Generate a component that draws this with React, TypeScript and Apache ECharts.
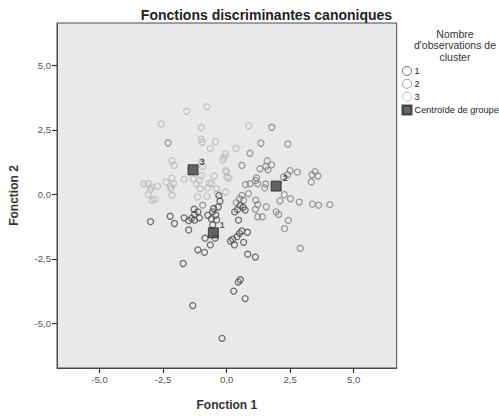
import React, { useEffect, useRef } from "react";
import * as echarts from "echarts";

const chartTitle = "Fonctions discriminantes canoniques";
const legendTitle = "Nombre\nd'observations de\ncluster";
const xAxisName = "Fonction 1";
const yAxisName = "Fonction 2";
const tickValues = [-5, -2.5, 0, 2.5, 5];
const clusterNames = ["1", "2", "3"];
const centroidName = "Centroïde de groupe";

const cluster1: number[][] = [
  [-0.30, -0.05], [-0.26, -0.26], [-0.33, -0.49], [-0.51, -0.55], [-0.55, -0.68],
  [-0.43, -0.80], [-0.74, -0.81], [-0.60, -0.95], [-0.39, -0.99], [-0.55, -1.18],
  [-1.28, -0.58], [-1.13, -0.68], [-1.26, -0.78], [-1.38, -0.93], [-1.26, -1.00],
  [-1.07, -0.91], [-2.22, -0.85], [-2.05, -1.13], [-1.67, -0.91], [-1.49, -1.02],
  [-2.99, -1.06], [-1.49, -1.38], [-0.85, -1.70], [-0.45, -1.70], [-0.64, -1.96],
  [-1.13, -2.15], [-0.87, -2.25], [0.15, -1.81], [0.31, -1.96], [0.24, -1.74],
  [0.41, -1.64], [0.67, -1.86], [0.60, -1.42], [0.51, -1.51], [0.82, -1.47],
  [0.47, -1.00], [0.83, -2.32], [1.13, -2.43], [-1.71, -2.68], [0.54, -3.31],
  [0.46, -3.40], [0.28, -3.75], [0.73, -4.04], [-1.33, -4.31], [-0.18, -5.58],
  [0.32, -0.68], [0.43, -0.59], [0.53, -0.43], [0.65, -0.50], [0.73, -0.61],
];

const cluster2: number[][] = [
  [-2.30, 1.99], [0.60, 1.12], [1.78, 2.60], [1.35, 1.98], [2.41, 1.95],
  [0.92, 1.59], [1.60, 1.30], [1.77, 1.14], [1.54, 1.08], [1.63, 0.95],
  [1.31, 0.99], [2.50, 0.92], [2.78, 0.86], [2.40, 0.76], [2.24, 0.67],
  [3.36, 0.76], [3.48, 0.88], [3.59, 0.71], [3.33, 0.48], [1.18, 0.64],
  [1.14, 0.53], [0.74, 0.38], [0.92, 0.41], [1.22, 0.41], [1.54, 0.40],
  [1.50, 0.25], [2.27, -0.01], [2.51, -0.17], [2.86, -0.30], [2.10, -0.25],
  [3.38, -0.38], [3.62, -0.42], [4.06, -0.40], [0.60, -0.04], [0.51, -0.17],
  [0.38, -0.32], [0.67, -0.23], [0.86, 0.03], [1.22, -0.40], [1.56, -0.48],
  [1.13, -0.58], [1.22, -0.87], [1.41, -0.87], [1.95, -0.68], [2.05, -0.78],
  [2.43, -1.01], [2.28, -1.33], [2.90, -2.09], [-0.94, -0.42], [1.15, -0.23],
];

const cluster3: number[][] = [
  [-0.77, 3.40], [-1.57, 3.22], [-2.57, 2.73], [-1.00, 2.59], [-1.00, 2.14],
  [-0.96, 2.02], [-0.44, 2.04], [-0.64, 1.78], [0.37, 1.78], [-0.04, 1.57],
  [-0.10, 1.44], [-0.15, 1.33], [-2.15, 1.30], [-2.07, 1.12], [-0.99, 1.27],
  [-0.94, 1.08], [-0.04, 0.92], [0.00, 0.86], [0.02, 0.67], [0.10, 0.63],
  [-0.49, 0.71], [-1.00, 0.73], [-1.67, 0.58], [-1.31, 0.60], [-1.07, 0.54],
  [-1.19, 0.41], [-2.15, 0.63], [-2.09, 0.41], [-2.22, 0.31], [-2.38, 0.48],
  [-3.25, 0.41], [-3.08, 0.41], [-2.95, 0.28], [-2.71, 0.31], [-2.99, 0.19],
  [-0.68, 0.44], [-0.59, 0.42], [-1.05, 0.22], [-0.75, 0.25], [-0.40, 0.22],
  [-0.04, 0.09], [-3.08, -0.01], [-2.15, -0.04], [0.87, 2.65], [-2.92, -0.23],
  [-2.82, -0.19], [-1.14, -0.10], [-0.77, -0.08], [-0.36, 0.03], [-2.18, 0.22],
];

const centroidLabels = ["1", "2", "3"];
const centroidX = [-0.52, 1.95, -1.32];
const centroidY = [-1.49, 0.32, 0.95];

const clusterColors = ["#4f4f4f", "#858585", "#b9b9b9"];
const FONT = "'Liberation Sans', Arial, sans-serif";

const fmt = (v: number) => v.toFixed(1).replace(".", ",");

export default function App() {
  const ref = useRef<HTMLDivElement>(null);

  useEffect(() => {
    if (!ref.current) return;
    const chart = echarts.init(ref.current, null, { renderer: "svg" });
    const clusters = [cluster1, cluster2, cluster3];

    const scatterSeries = clusters.map((data, i) => ({
      name: clusterNames[i],
      type: "scatter",
      data,
      symbol: "circle",
      symbolSize: 6,
      itemStyle: {
        color: "rgba(0,0,0,0)",
        borderColor: clusterColors[i],
        borderWidth: 1.3,
      },
      emphasis: { disabled: true },
      z: 3 - i,
    }));

    const axisCommon = (name: string, gap: number, pos: string) => ({
      type: "value",
      name,
      position: pos,
      nameLocation: "middle",
      nameGap: gap,
      nameTextStyle: { fontFamily: FONT, fontSize: 12, fontWeight: "bold", color: "#333" },
      axisLine: { show: true, onZero: false, lineStyle: { color: "#4a4a4a", width: 1 } },
      splitLine: { show: false },
      axisTick: {
        show: true,
        inside: false,
        length: 5,
        lineStyle: { color: "#333", width: 1.2 },
        customValues: tickValues,
      },
      axisLabel: {
        show: true,
        margin: 6,
        fontFamily: FONT,
        fontSize: 9.6,
        color: "#555",
        customValues: tickValues,
        formatter: (v: number) => fmt(v),
      },
    });

    const option: any = {
      animation: false,
      backgroundColor: "#ffffff",
      textStyle: { fontFamily: FONT },
      title: [
        {
          text: chartTitle,
          left: 261.5,
          top: 3,
          textAlign: "center",
          textStyle: { fontFamily: FONT, fontSize: 14, fontWeight: "bold", color: "#222" },
        },
        {
          text: legendTitle,
          left: 450,
          top: 23,
          textAlign: "center",
          textStyle: {
            fontFamily: FONT,
            fontSize: 10.5,
            fontWeight: "normal",
            color: "#333",
            lineHeight: 11.5,
          },
        },
      ],
      legend: {
        orient: "vertical",
        left: 401.5,
        top: 66,
        itemWidth: 9,
        itemHeight: 9,
        itemGap: 2.8,
        padding: 0,
        selectedMode: false,
        textStyle: {
          fontFamily: FONT,
          fontSize: 9.2,
          lineHeight: 9.5,
          color: "#222",
          padding: [0, 0, 0, -2],
        },
        data: [
          ...clusterNames.map((n) => ({ name: n, itemStyle: { borderWidth: 1 } })),
          { name: centroidName, icon: "rect" },
        ],
      },
      grid: {
        left: 49.3,
        right: 102.3,
        top: 23,
        bottom: 45.3,
        show: true,
        backgroundColor: "#e9e9eb",
        borderColor: "#4a4a4a",
        borderWidth: 1,
        containLabel: false,
      },
      xAxis: { ...axisCommon(xAxisName, 31, "bottom"), min: -6.67, max: 6.69 },
      yAxis: { ...axisCommon(yAxisName, 37, "left"), min: -6.73, max: 6.64, nameRotate: 90 },
      series: [
        ...scatterSeries,
        {
          name: centroidName,
          type: "scatter",
          data: centroidX.map((x, i) => ({ value: [x, centroidY[i]], name: centroidLabels[i] })),
          symbol: "rect",
          symbolSize: 10,
          itemStyle: { color: "#404040", borderColor: "#262626", borderWidth: 1 },
          label: {
            show: true,
            position: "right",
            distance: 1,
            offset: [0, -8],
            formatter: (p: any) => p.name,
            fontFamily: FONT,
            fontSize: 9,
            fontWeight: "bold",
            color: "#333",
          },
          emphasis: { disabled: true },
          z: 10,
        },
      ],
    };

    chart.setOption(option);
    return () => chart.dispose();
  }, []);

  return (
    <div
      ref={ref}
      style={{ position: "fixed", left: 0, top: 0, width: 499, height: 416 }}
    />
  );
}
